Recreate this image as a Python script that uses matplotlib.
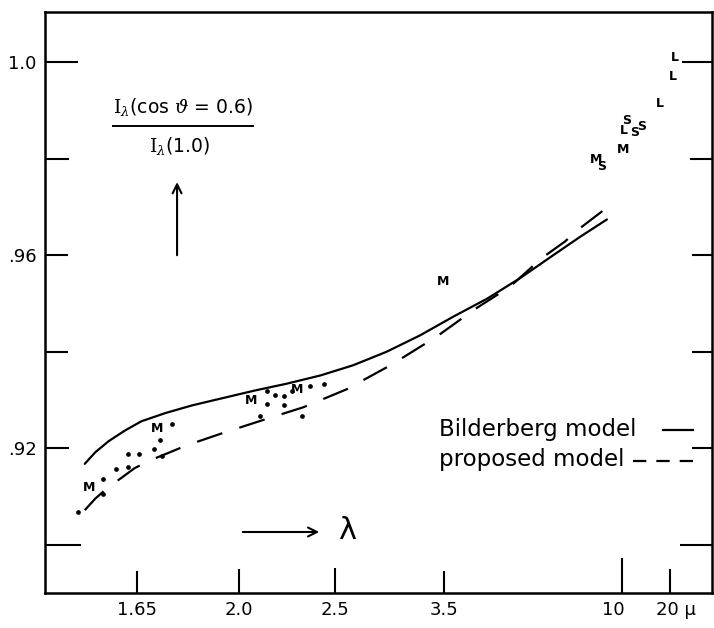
import matplotlib
matplotlib.use("Agg")
import matplotlib.pyplot as plt
from matplotlib.transforms import ScaledTranslation

# x is 1/lambda (per micron), axis runs right-to-left; y is I(cos=0.6)/I(1.0)
bild_k = [0.661, 0.650, 0.636, 0.619, 0.602, 0.577, 0.549, 0.515, 0.483,
          0.450, 0.415, 0.381, 0.346, 0.311, 0.277, 0.241, 0.207, 0.172,
          0.144, 0.116]
bild_r = [0.9168, 0.9192, 0.9215, 0.9237, 0.9256, 0.9273, 0.9289, 0.9305, 0.9320,
          0.9334, 0.9351, 0.9372, 0.9400, 0.9434, 0.9472, 0.9510, 0.9552, 0.9600,
          0.9638, 0.9674]

prop_k = [0.661, 0.650, 0.638, 0.622, 0.609, 0.593, 0.572, 0.555, 0.518,
          0.476, 0.433, 0.388, 0.342, 0.294, 0.254, 0.217, 0.184, 0.160,
          0.144, 0.117]
prop_r = [0.9072, 0.9096, 0.9117, 0.9140, 0.9159, 0.9175, 0.9192, 0.9206, 0.9231,
          0.9258, 0.9285, 0.9322, 0.9372, 0.9431, 0.9488, 0.9535, 0.9594, 0.9628,
          0.9656, 0.9697]

# single observations (dots)
dot_k = [0.668, 0.642, 0.642, 0.628, 0.616, 0.616, 0.604, 0.589, 0.582, 0.580,
         0.570, 0.478, 0.471, 0.471, 0.462, 0.453, 0.453, 0.445, 0.434, 0.426, 0.411]
dot_r = [0.9068, 0.9137, 0.9105, 0.9158, 0.9189, 0.9161, 0.9189, 0.9198, 0.9218, 0.9184,
         0.9250, 0.9266, 0.9319, 0.9291, 0.9310, 0.9309, 0.9289, 0.9319, 0.9268, 0.9330, 0.9333]

# lettered observations (M, S, L)
obs_k = [0.656, 0.586, 0.487, 0.439, 0.287, 0.127, 0.121, 0.099, 0.098,
         0.095, 0.087, 0.080, 0.061, 0.047, 0.045]
obs_r = [0.9119, 0.9241, 0.9299, 0.9321, 0.9545, 0.9798, 0.9783, 0.9818, 0.9858,
         0.9878, 0.9854, 0.9867, 0.9914, 0.9971, 1.0010]
obs_lab = ["M", "M", "M", "M", "M", "M", "S", "M", "L", "S", "S", "S", "L", "L", "L"]

x_lam = [1.65, 2.0, 2.5, 3.5, 10, 20]
x_labels = ["1.65", "2.0", "2.5", "3.5", "10", "20 \u03bc"]
x_shift = [0, 0, 0, 0, -9, 6]          # px
x_len = [16, 17, 18, 16, 25, 17]       # tick length, pt

y_vals = [0.90, 0.92, 0.94, 0.96, 0.98, 1.00]
y_labels = ["", ".92", "", ".96", "", "1.0"]
y_len_left = [26, 17, 16.5, 16.5, 17, 24]
y_len_right = [23, 14.5, 14.5, 14.5, 16, 21.5]

W, H = 714, 628
fig = plt.figure(figsize=(W / 100, H / 100), dpi=100)
ax = fig.add_axes([45 / W, (H - 593) / H, (712 - 45) / W, (593 - 12) / H])

ax.plot(bild_k, bild_r, color="black", lw=1.6, solid_capstyle="round", solid_joinstyle="round")
ax.plot(prop_k, prop_r, color="black", lw=1.6, dashes=(12, 8))
ax.plot(dot_k, dot_r, "o", color="black", ms=3.4, mew=0)
for k, r, s in zip(obs_k, obs_r, obs_lab):
    ax.text(k, r, s, ha="center", va="center", fontsize=9, fontweight="bold")

ax.set_xlim(0.7025, 0.0063)
ax.set_ylim(0.89005, 1.01036)

for sp in ax.spines.values():
    sp.set_linewidth(1.8)

ax.set_xticks([1 / l for l in x_lam])
ax.set_xticklabels(x_labels)
ax.set_yticks(y_vals)
ax.set_yticklabels(y_labels)
ax.tick_params(direction="in", width=1.5, labelsize=13, pad=6, right=True)
for t, n in zip(ax.xaxis.get_major_ticks(), x_len):
    t.tick1line.set_markersize(n)
for t, l, r in zip(ax.yaxis.get_major_ticks(), y_len_left, y_len_right):
    t.tick1line.set_markersize(l)
    t.tick2line.set_markersize(r)
for lab, dx in zip(ax.get_xticklabels(), x_shift):
    lab.set_transform(lab.get_transform() + ScaledTranslation(dx / 100, 0, fig.dpi_scale_trans))

# ordinate label as a fraction with an arrow
ax.text(0.207, 0.8365, r"$\mathrm{I}_{\lambda}$(cos $\vartheta$ = 0.6)", transform=ax.transAxes,
        ha="center", va="center", fontsize=13.5, math_fontfamily="dejavuserif")
ax.plot([0.102, 0.312], [0.8038, 0.8038], color="black", lw=1.4, transform=ax.transAxes)
ax.text(0.2024, 0.7694, r"$\mathrm{I}_{\lambda}$(1.0)", transform=ax.transAxes,
        ha="center", va="center", fontsize=13.5, math_fontfamily="dejavuserif")
ax.annotate("", xy=(0.198, 0.712), xytext=(0.198, 0.5766), xycoords="axes fraction",
            arrowprops=dict(arrowstyle="->", lw=1.5, color="black", mutation_scale=16))

# abscissa arrow
ax.annotate("", xy=(0.4153, 0.105), xytext=(0.2924, 0.105), xycoords="axes fraction",
            arrowprops=dict(arrowstyle="->", lw=1.5, color="black", mutation_scale=16))
ax.text(0.4528, 0.108, "\u03bb", transform=ax.transAxes, ha="center", va="center",
        fontsize=22)

# legend
ax.text(0.591, 0.2806, "Bilderberg model", transform=ax.transAxes, ha="left", va="center",
        fontsize=16.5)
ax.plot([0.9265, 0.9715], [0.2806, 0.2806], color="black", lw=1.6, transform=ax.transAxes)
ax.text(0.591, 0.229, "proposed model", transform=ax.transAxes, ha="left", va="center",
        fontsize=16.5)
ax.plot([0.8816, 0.9775], [0.2272, 0.2272], color="black", lw=1.6, dashes=(6, 4.5),
        transform=ax.transAxes)

fig.savefig("out.png", dpi=100)
